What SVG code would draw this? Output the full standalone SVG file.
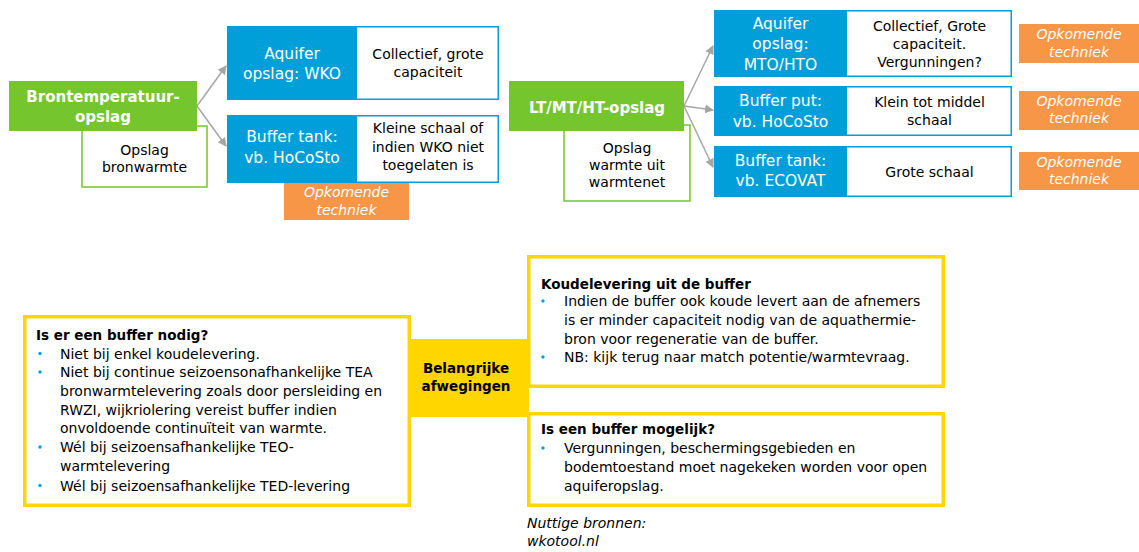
<svg xmlns="http://www.w3.org/2000/svg" width="1139" height="552" viewBox="0 0 1139 552">
<defs>
<marker id="ah" markerWidth="10" markerHeight="10" refX="8" refY="5" orient="auto" markerUnits="userSpaceOnUse">
<path d="M0,0.5 L9,5 L0,9.5 Z" fill="#A6A6A6"/>
</marker>
<style>
text{font-family:"DejaVu Sans","Liberation Sans",sans-serif;fill:#000}
.t{font-weight:bold;font-size:15px;fill:#fff;text-anchor:middle}
.bw{font-size:15.5px;fill:#fff;text-anchor:middle}
.w{font-size:14px;text-anchor:middle}
.o{font-size:14px;font-style:italic;fill:#fff;text-anchor:middle}
.g{fill:#75C52E}
.sub{fill:#fff;stroke:#75C52E;stroke-width:1.5}
.blue{fill:#009FDA}
.row{fill:#fff;stroke:#009FDA;stroke-width:1.5}
.or{fill:#F79646}
.y{fill:#fff;stroke:#FFD600;stroke-width:3.5}
.b{font-size:14px}
.h{font-size:13.5px;font-weight:bold}
.dot{fill:#00A0DC}
.conn{stroke:#A6A6A6;stroke-width:1.5;fill:none;marker-end:url(#ah)}
</style>
</defs>
<rect width="1139" height="552" fill="#fff"/>

<g id="connectors">
<line class="conn" x1="197" y1="106" x2="226" y2="66"/>
<line class="conn" x1="197" y1="106" x2="226" y2="146"/>
<line class="conn" x1="684" y1="106" x2="713" y2="46"/>
<line class="conn" x1="684" y1="106" x2="713" y2="110"/>
<line class="conn" x1="684" y1="106" x2="713" y2="167"/>
</g>

<g id="opslag-bronwarmte">
<rect class="sub" x="82" y="126" width="125" height="61"/>
<text class="w" x="144.5" y="155">Opslag</text>
<text class="w" x="144.5" y="172">bronwarmte</text>
</g>
<g id="brontemperatuur">
<rect class="g" x="9" y="81" width="188" height="50"/>
<text class="t" x="103" y="102">Brontemperatuur-</text>
<text class="t" x="103" y="122">opslag</text>
</g>

<g id="aquifer-wko">
<rect class="row" x="227.75" y="26.75" width="270.5" height="72.5"/>
<rect class="blue" x="227" y="26" width="130" height="74"/>
<text class="bw" x="292" y="59">Aquifer</text>
<text class="bw" x="292" y="79">opslag: WKO</text>
<text class="w" x="428" y="59">Collectief, grote</text>
<text class="w" x="428" y="77">capaciteit</text>
</g>
<g id="buffer-tank-hocosto">
<rect class="row" x="227.75" y="115.75" width="270.5" height="66.5"/>
<rect class="blue" x="227" y="115" width="130" height="68"/>
<text class="bw" x="292" y="142">Buffer tank:</text>
<text class="bw" x="292" y="163">vb. HoCoSto</text>
<text class="w" x="428" y="133">Kleine schaal of</text>
<text class="w" x="428" y="151.5">indien WKO niet</text>
<text class="w" x="428" y="169.5">toegelaten is</text>
</g>
<g id="opkomende-1">
<rect class="or" x="284" y="183" width="125" height="37"/>
<text class="o" x="346.5" y="197">Opkomende</text>
<text class="o" x="346.5" y="215">techniek</text>
</g>

<g id="opslag-warmtenet">
<rect class="sub" x="564" y="125" width="126" height="76"/>
<text class="w" x="627" y="153">Opslag</text>
<text class="w" x="627" y="170">warmte uit</text>
<text class="w" x="627" y="187">warmtenet</text>
</g>
<g id="lt-mt-ht">
<rect class="g" x="509" y="81" width="175" height="50"/>
<text class="t" x="597" y="113">LT/MT/HT-opslag</text>
</g>

<g id="aquifer-mto-hto">
<rect class="row" x="714.75" y="10.75" width="296.5" height="65.5"/>
<rect class="blue" x="714" y="10" width="133" height="67"/>
<text class="bw" x="780.5" y="29">Aquifer</text>
<text class="bw" x="780.5" y="49">opslag:</text>
<text class="bw" x="780.5" y="70">MTO/HTO</text>
<text class="w" x="929.5" y="31">Collectief, Grote</text>
<text class="w" x="929.5" y="48.5">capaciteit.</text>
<text class="w" x="929.5" y="67">Vergunningen?</text>
</g>
<g id="buffer-put">
<rect class="row" x="714.75" y="86.75" width="296.5" height="48.5"/>
<rect class="blue" x="714" y="86" width="133" height="50"/>
<text class="bw" x="780.5" y="106">Buffer put:</text>
<text class="bw" x="780.5" y="127">vb. HoCoSto</text>
<text class="w" x="929.5" y="107">Klein tot middel</text>
<text class="w" x="929.5" y="125">schaal</text>
</g>
<g id="buffer-tank-ecovat">
<rect class="row" x="714.75" y="146.75" width="296.5" height="49.5"/>
<rect class="blue" x="714" y="146" width="133" height="51"/>
<text class="bw" x="780.5" y="166">Buffer tank:</text>
<text class="bw" x="780.5" y="186">vb. ECOVAT</text>
<text class="w" x="929.5" y="177">Grote schaal</text>
</g>
<g id="opkomende-2">
<rect class="or" x="1019" y="24" width="120" height="39"/>
<text class="o" x="1079" y="39">Opkomende</text>
<text class="o" x="1079" y="57">techniek</text>
</g>
<g id="opkomende-3">
<rect class="or" x="1019" y="91" width="120" height="39"/>
<text class="o" x="1079" y="106">Opkomende</text>
<text class="o" x="1079" y="123">techniek</text>
</g>
<g id="opkomende-4">
<rect class="or" x="1019" y="152" width="120" height="38"/>
<text class="o" x="1079" y="167">Opkomende</text>
<text class="o" x="1079" y="184">techniek</text>
</g>

<g id="belangrijke-afwegingen">
<rect fill="#FFD600" x="408" y="339" width="121" height="78"/>
<text class="h" x="466" y="373" text-anchor="middle">Belangrijke</text>
<text class="h" x="466" y="391" text-anchor="middle">afwegingen</text>
</g>

<g id="buffer-nodig">
<rect class="y" x="24.75" y="316.75" width="384.5" height="188.5"/>
<text class="h" x="36" y="340">Is er een buffer nodig?</text>
<circle class="dot" cx="40" cy="353.5" r="1.7"/>
<text class="b" x="60" y="358.5">Niet bij enkel koudelevering.</text>
<circle class="dot" cx="40" cy="372" r="1.7"/>
<text class="b" x="60" y="377">Niet bij continue seizoensonafhankelijke TEA</text>
<text class="b" x="60" y="395.5">bronwarmtelevering zoals door persleiding en</text>
<text class="b" x="60" y="414.5">RWZI, wijkriolering vereist buffer indien</text>
<text class="b" x="60" y="433">onvoldoende continuïteit van warmte.</text>
<circle class="dot" cx="40" cy="447" r="1.7"/>
<text class="b" x="60" y="452">Wél bij seizoensafhankelijke TEO-</text>
<text class="b" x="60" y="471">warmtelevering</text>
<circle class="dot" cx="40" cy="485.5" r="1.7"/>
<text class="b" x="60" y="490.5">Wél bij seizoensafhankelijke TED-levering</text>
</g>

<g id="koudelevering">
<rect class="y" x="528.75" y="256.75" width="414.5" height="129.5"/>
<text class="h" x="541" y="289">Koudelevering uit de buffer</text>
<circle class="dot" cx="543" cy="301" r="1.7"/>
<text class="b" x="564" y="306">Indien de buffer ook koude levert aan de afnemers</text>
<text class="b" x="564" y="325">is er minder capaciteit nodig van de aquathermie-</text>
<text class="b" x="564" y="343.5">bron voor regeneratie van de buffer.</text>
<circle class="dot" cx="543" cy="357" r="1.7"/>
<text class="b" x="564" y="362">NB: kijk terug naar match potentie/warmtevraag.</text>
</g>

<g id="buffer-mogelijk">
<rect class="y" x="528.75" y="413.75" width="414.5" height="91.5"/>
<text class="h" x="541" y="434">Is een buffer mogelijk?</text>
<circle class="dot" cx="543" cy="448" r="1.7"/>
<text class="b" x="564" y="453">Vergunningen, beschermingsgebieden en</text>
<text class="b" x="564" y="471.5">bodemtoestand moet nagekeken worden voor open</text>
<text class="b" x="564" y="490.5">aquiferopslag.</text>
</g>

<g id="bronnen">
<text class="b" x="527" y="527.5" font-style="italic">Nuttige bronnen:</text>
<text class="b" x="527" y="546" font-style="italic">wkotool.nl</text>
</g>
</svg>
